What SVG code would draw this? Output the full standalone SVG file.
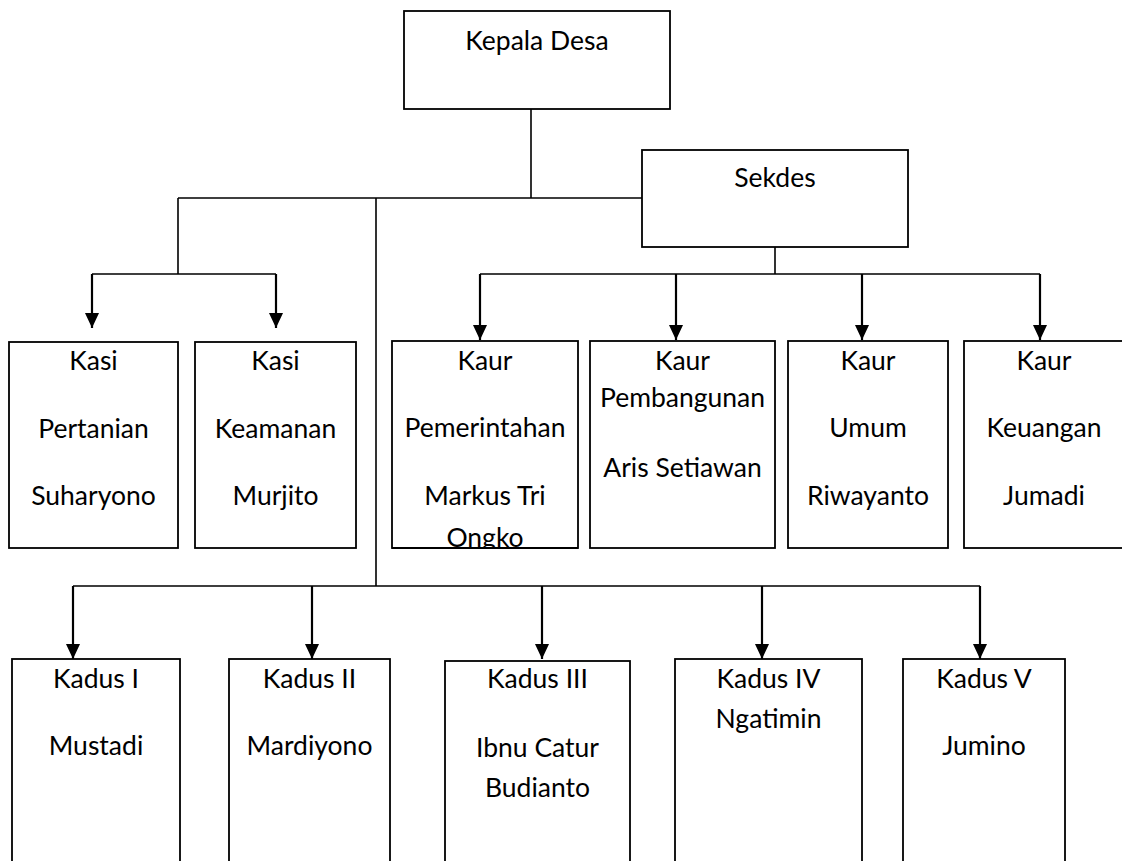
<svg xmlns="http://www.w3.org/2000/svg" width="1122" height="861" viewBox="0 0 1122 861">
<style>
.box{fill:#fff;stroke:#000;stroke-width:1.8}
.ln{fill:none;stroke:#000;stroke-width:1.6}
.ar{fill:none;stroke:#000;stroke-width:2.2}
text{font-family:Lato,"Liberation Sans",sans-serif;font-size:26.5px;fill:#000;text-anchor:middle}
</style>
<defs>
<marker id="ah" markerUnits="userSpaceOnUse" markerWidth="16" markerHeight="16" viewBox="0 0 16 16" refX="15" refY="8" orient="auto">
<path d="M0,1 L15,8 L0,15 Z" fill="#000"/>
</marker>
<clipPath id="cK1"><rect x="392" y="341" width="186" height="207"/></clipPath>
</defs>
<rect width="1122" height="861" fill="#fff"/>
<g id="connectors">
<path class="ln" d="M531,109 V198 M178,198 H642 M178,198 V274 M92,274 H276 M775,247 V274 M480,274 H1040 M376,198 V586 M73,586 H980"/>
<path class="ar" d="M92,274 V328" marker-end="url(#ah)"/>
<path class="ar" d="M276,274 V328" marker-end="url(#ah)"/>
<path class="ar" d="M480,274 V340" marker-end="url(#ah)"/>
<path class="ar" d="M676,274 V340" marker-end="url(#ah)"/>
<path class="ar" d="M862,274 V340" marker-end="url(#ah)"/>
<path class="ar" d="M1040,274 V340" marker-end="url(#ah)"/>
<path class="ar" d="M73,586 V659" marker-end="url(#ah)"/>
<path class="ar" d="M312,586 V659" marker-end="url(#ah)"/>
<path class="ar" d="M542,586 V659" marker-end="url(#ah)"/>
<path class="ar" d="M762,586 V659" marker-end="url(#ah)"/>
<path class="ar" d="M980,586 V659" marker-end="url(#ah)"/>
</g>
<g id="kepala-desa"><rect class="box" x="404" y="11" width="266" height="98"/><text x="537" y="50">Kepala Desa</text></g>
<g id="sekdes"><rect class="box" x="642" y="150" width="266" height="97"/><text x="775" y="187">Sekdes</text></g>
<g id="kasi-pertanian"><rect class="box" x="9" y="342" width="169" height="206"/><text x="93.5" y="370">Kasi</text><text x="93.5" y="438">Pertanian</text><text x="93.5" y="505">Suharyono</text></g>
<g id="kasi-keamanan"><rect class="box" x="195" y="342" width="161" height="206"/><text x="275.5" y="370">Kasi</text><text x="275.5" y="438">Keamanan</text><text x="275.5" y="505">Murjito</text></g>
<g id="kaur-pemerintahan"><rect class="box" x="392" y="341" width="186" height="207"/><g clip-path="url(#cK1)"><text x="485" y="370">Kaur</text><text x="485" y="437">Pemerintahan</text><text x="485" y="505">Markus Tri</text><text x="485" y="547">Ongko</text></g><line class="box" x1="392" y1="548" x2="578" y2="548"/></g>
<g id="kaur-pembangunan"><rect class="box" x="590" y="341" width="185" height="207"/><text x="682.5" y="370">Kaur</text><text x="682.5" y="407">Pembangunan</text><text x="682.5" y="477">Aris Setiawan</text></g>
<g id="kaur-umum"><rect class="box" x="788" y="341" width="160" height="207"/><text x="868" y="370">Kaur</text><text x="868" y="437">Umum</text><text x="868" y="505">Riwayanto</text></g>
<g id="kaur-keuangan"><rect class="box" x="964" y="341" width="162" height="207"/><text x="1044" y="370">Kaur</text><text x="1044" y="437">Keuangan</text><text x="1044" y="505">Jumadi</text></g>
<g id="kadus-1"><rect class="box" x="12" y="659" width="168" height="220"/><text x="96" y="688">Kadus I</text><text x="96" y="755">Mustadi</text></g>
<g id="kadus-2"><rect class="box" x="229" y="659" width="161" height="220"/><text x="309.5" y="688">Kadus II</text><text x="309.5" y="755">Mardiyono</text></g>
<g id="kadus-3"><rect class="box" x="445" y="661" width="185" height="220"/><text x="537.5" y="688">Kadus III</text><text x="537.5" y="757">Ibnu Catur</text><text x="537.5" y="797">Budianto</text></g>
<g id="kadus-4"><rect class="box" x="675" y="659" width="187" height="220"/><text x="768.5" y="688">Kadus IV</text><text x="768.5" y="728">Ngatimin</text></g>
<g id="kadus-5"><rect class="box" x="903" y="659" width="162" height="220"/><text x="984" y="688">Kadus V</text><text x="984" y="755">Jumino</text></g>
</svg>
